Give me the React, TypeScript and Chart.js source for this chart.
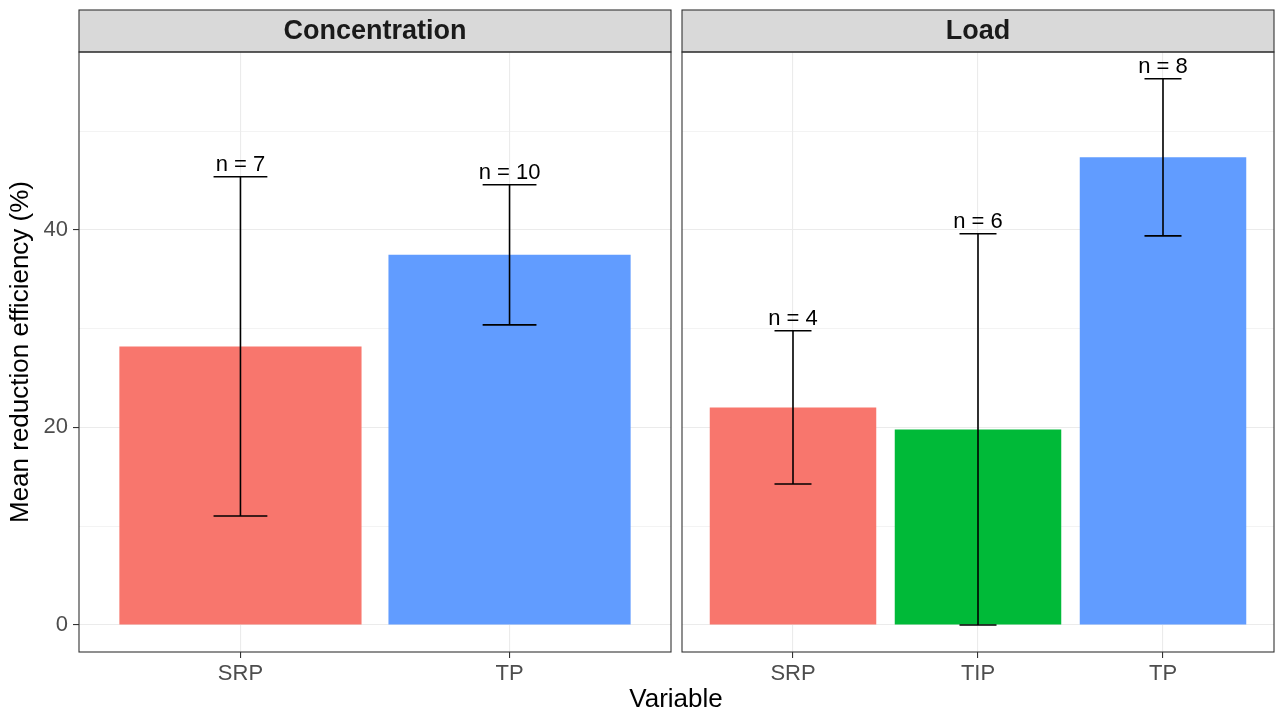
import React, { useEffect, useRef } from "react";
import { Chart, registerables } from "chart.js";

Chart.register(...registerables);

// ---- data ----
const concCats = ["SRP", "TP"];
const concMean = [28.2, 37.47];
const concSE = [17.17, 7.09];
const concN = [7, 10];

const loadCats = ["SRP", "TIP", "TP"];
const loadMean = [22.03, 19.8, 47.34];
const loadSE = [7.75, 19.8, 7.95];
const loadN = [4, 6, 8];

const yGridValues = [0, 10, 20, 30, 40, 50];
const yLabelValues = [0, 20, 40];
const yMin = -2.73;
const yMax = 58.0;

const catColors: Record<string, string> = { SRP: "#F8766D", TIP: "#00BA38", TP: "#619CFF" };

const FONT = "'Liberation Sans', Arial, sans-serif";

function makeConfig(
  title: string,
  cats: string[],
  mean: number[],
  se: number[],
  n: number[],
  first: boolean
): any {
  const panelPlugin = {
    id: "panel" + title,
    afterDatasetsDraw(chart: any) {
      const ctx = chart.ctx;
      const xs = chart.scales.x;
      const ys = chart.scales.y;
      const unit = xs.getPixelForValue(1) - xs.getPixelForValue(0);
      ctx.save();
      ctx.strokeStyle = "#000000";
      ctx.lineWidth = 1.6;
      ctx.fillStyle = "#000000";
      ctx.font = `22px ${FONT}`;
      ctx.textAlign = "center";
      ctx.textBaseline = "alphabetic";
      cats.forEach((c, i) => {
        const cx = xs.getPixelForValue(i);
        const up = ys.getPixelForValue(mean[i] + se[i]);
        const lo = ys.getPixelForValue(mean[i] - se[i]);
        const hw = unit * 0.1;
        ctx.beginPath();
        ctx.moveTo(cx, up);
        ctx.lineTo(cx, lo);
        ctx.moveTo(cx - hw, up);
        ctx.lineTo(cx + hw, up);
        ctx.moveTo(cx - hw, lo);
        ctx.lineTo(cx + hw, lo);
        ctx.stroke();
        ctx.fillText(`n = ${n[i]}`, cx, up - 6);
      });
      ctx.restore();
    },
    afterDraw(chart: any) {
      const ctx = chart.ctx;
      const a = chart.chartArea;
      ctx.save();
      // strip
      ctx.fillStyle = "#D9D9D9";
      ctx.fillRect(a.left, 10, a.right - a.left, a.top - 10);
      ctx.strokeStyle = "#333333";
      ctx.lineWidth = 1.1;
      ctx.strokeRect(a.left, 10, a.right - a.left, a.top - 10);
      ctx.fillStyle = "#1A1A1A";
      ctx.font = `bold 27px ${FONT}`;
      ctx.textAlign = "center";
      ctx.textBaseline = "middle";
      ctx.fillText(title, (a.left + a.right) / 2, (10 + a.top) / 2 + 1);
      // panel border
      ctx.strokeRect(a.left, a.top, a.right - a.left, a.bottom - a.top);
      if (first) {
        ctx.fillStyle = "#000000";
        ctx.font = `26px ${FONT}`;
        ctx.textBaseline = "middle";
        ctx.fillText("Variable", 676, 700);
      }
      ctx.restore();
    },
  };

  return {
    type: "bar",
    data: {
      datasets: [
        {
          data: cats.map((c, i) => ({ x: i, y: mean[i] })),
          backgroundColor: cats.map((c) => catColors[c]),
          borderWidth: 0,
          barPercentage: 0.9,
          categoryPercentage: 1.0,
        },
      ],
    },
    options: {
      responsive: false,
      animation: false,
      layout: {
        padding: first
          ? { left: 0, right: 1275 - 671, top: 52, bottom: 0 }
          : { left: 682, right: 1, top: 52, bottom: 0 },
      },
      plugins: { legend: { display: false }, tooltip: { enabled: false } },
      scales: {
        x: {
          type: "linear",
          offset: false,
          min: -0.6,
          max: cats.length - 1 + 0.6,
          afterBuildTicks: (s: any) => {
            s.ticks = cats.map((_, i) => ({ value: i }));
          },
          afterFit: (s: any) => {
            s.height = 63;
          },
          ticks: {
            callback: (v: any) => cats[v] ?? "",
            font: { family: FONT, size: 22 },
            color: "#4D4D4D",
            padding: 3,
            maxRotation: 0,
            autoSkip: false,
          },
          grid: {
            color: "#EBEBEB",
            lineWidth: 1.1,
            offset: false,
            drawTicks: true,
            tickLength: 6,
            tickColor: "#333333",
          },
          border: { display: false },
        },
        y: {
          type: "linear",
          min: yMin,
          max: yMax,
          afterBuildTicks: (s: any) => {
            s.ticks = yGridValues.map((v) => ({ value: v }));
          },
          afterFit: (s: any) => {
            s.width = first ? 79 : 0;
          },
          title: first
            ? {
                display: true,
                text: "Mean reduction efficiency (%)",
                font: { family: FONT, size: 26 },
                color: "#000000",
                padding: { top: 5, bottom: 0 },
              }
            : { display: false },
          ticks: {
            display: first,
            callback: (v: any) => (yLabelValues.includes(v) ? String(v) : ""),
            font: { family: FONT, size: 22 },
            color: "#4D4D4D",
            padding: 5,
            autoSkip: false,
          },
          grid: {
            color: "#EBEBEB",
            lineWidth: (c: any) => (c.tick && yLabelValues.includes(c.tick.value) ? 1.1 : 0.6),
            drawTicks: first,
            tickLength: 6,
            tickColor: (c: any) =>
              c.tick && yLabelValues.includes(c.tick.value) ? "#333333" : "rgba(0,0,0,0)",
          },
          border: { display: false },
        },
      },
    },
    plugins: [panelPlugin],
  };
}

export default function App() {
  const ref1 = useRef<HTMLCanvasElement>(null);
  const ref2 = useRef<HTMLCanvasElement>(null);

  useEffect(() => {
    document.body.style.margin = "0";
    const c1 = new Chart(ref1.current as any, makeConfig("Concentration", concCats, concMean, concSE, concN, true));
    const c2 = new Chart(ref2.current as any, makeConfig("Load", loadCats, loadMean, loadSE, loadN, false));
    return () => {
      c1.destroy();
      c2.destroy();
    };
  }, []);

  const style: React.CSSProperties = { position: "absolute", left: 0, top: 0, width: 1275, height: 715 };
  return (
    <div style={{ position: "relative", width: 1275, height: 715, background: "#FFFFFF" }}>
      <canvas ref={ref1} width={1275} height={715} style={style} />
      <canvas ref={ref2} width={1275} height={715} style={style} />
    </div>
  );
}
